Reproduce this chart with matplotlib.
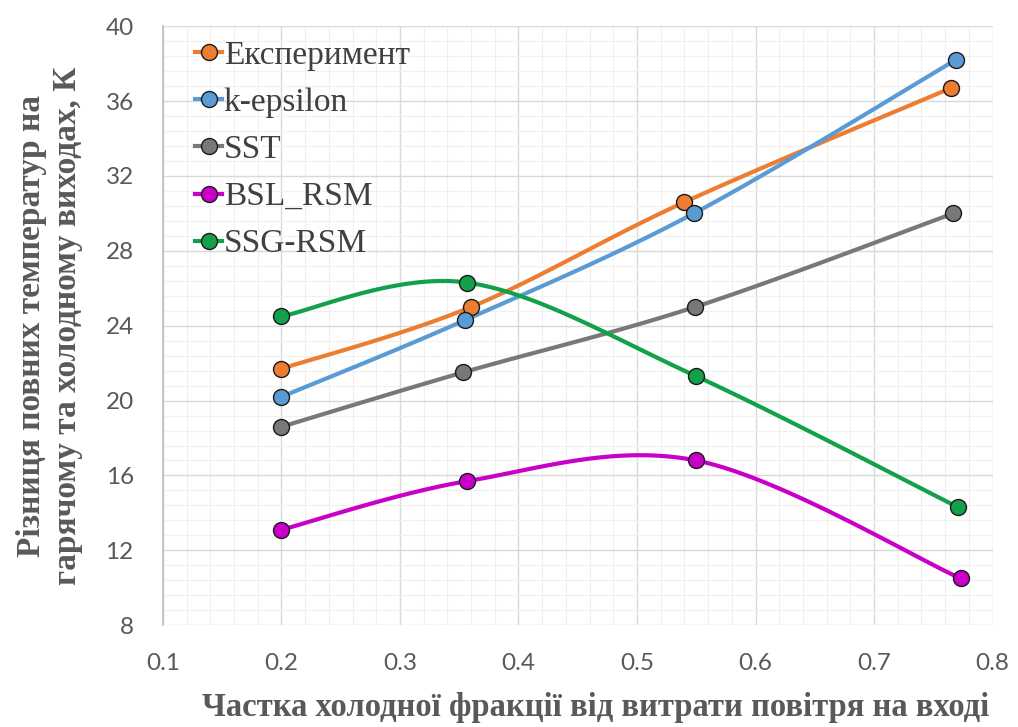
import numpy as np
import matplotlib
matplotlib.use("Agg")
import matplotlib.pyplot as plt
from matplotlib.ticker import MultipleLocator

# Measured data: cold-fraction ratio vs. total temperature difference, K
series_names = ["Експеримент", "k-epsilon", "SST", "BSL_RSM", "SSG-RSM"]
series_colors = ["#ED7D31", "#5B9BD5", "#787878", "#C800C8", "#13A04B"]

x_exp = [0.20, 0.360, 0.540, 0.765]
y_exp = [21.7, 25.0, 30.6, 36.7]

x_keps = [0.20, 0.355, 0.548, 0.769]
y_keps = [20.2, 24.3, 30.0, 38.2]

x_sst = [0.20, 0.353, 0.549, 0.767]
y_sst = [18.6, 21.5, 25.0, 30.0]

x_bsl = [0.20, 0.357, 0.550, 0.773]
y_bsl = [13.1, 15.7, 16.8, 10.5]

x_ssg = [0.20, 0.357, 0.550, 0.771]
y_ssg = [24.5, 26.3, 21.3, 14.3]

xs = [x_exp, x_keps, x_sst, x_bsl, x_ssg]
ys = [y_exp, y_keps, y_sst, y_bsl, y_ssg]

x_ticks = [0.1, 0.2, 0.3, 0.4, 0.5, 0.6, 0.7, 0.8]
y_ticks = [8, 12, 16, 20, 24, 28, 32, 36, 40]

x_label = "Частка холодної фракції від витрати повітря на вході"
y_label = "Різниця повних температур на\nгарячому та холодному виходах, К"


def smooth_curve(ax, x, y, n=40):
    """Spreadsheet-style smoothed line (Catmull-Rom Bezier) built in display space."""
    pts = ax.transData.transform(np.column_stack([x, y]))
    ext = np.vstack([pts[0], pts, pts[-1]])
    out = []
    t = np.linspace(0, 1, n)[:, None]
    for i in range(len(pts) - 1):
        p0, p1, p2, p3 = ext[i], ext[i + 1], ext[i + 2], ext[i + 3]
        c1 = p1 + (p2 - p0) / 6.0
        c2 = p2 - (p3 - p1) / 6.0
        seg = ((1 - t) ** 3) * p1 + 3 * ((1 - t) ** 2) * t * c1 + 3 * (1 - t) * t ** 2 * c2 + t ** 3 * p2
        out.append(seg if i == 0 else seg[1:])
    out = np.vstack(out)
    data = ax.transData.inverted().transform(out)
    return data[:, 0], data[:, 1]


fig = plt.figure(figsize=(10.18, 7.27), dpi=100)
ax = fig.add_axes([0.160, 0.140, 0.815, 0.824])
ax.set_xlim(0.1, 0.8)
ax.set_ylim(8, 40)

ax.xaxis.set_major_locator(MultipleLocator(0.1))
ax.xaxis.set_minor_locator(MultipleLocator(0.02))
ax.yaxis.set_major_locator(MultipleLocator(4))
ax.yaxis.set_minor_locator(MultipleLocator(0.8))
ax.grid(which="major", color="#D9D9D9", linewidth=1.0)
ax.grid(which="minor", color="#F0F0F0", linewidth=0.8)
ax.set_axisbelow(True)

for side in ["top", "right", "bottom"]:
    ax.spines[side].set_visible(False)
ax.spines["left"].set_color("#BFBFBF")
ax.spines["left"].set_linewidth(1.2)

ax.set_xticks(x_ticks)
ax.set_xticklabels([f"{v:g}" for v in x_ticks])
ax.set_yticks(y_ticks)
ax.set_yticklabels([str(v) for v in y_ticks])
ax.tick_params(which="both", length=0)
ax.tick_params(axis="x", pad=20)
ax.tick_params(axis="y", pad=21)
for lab in ax.get_xticklabels() + ax.get_yticklabels():
    lab.set_fontfamily("Lato")
    lab.set_fontsize(17.5)
    lab.set_color("#595959")

fig.canvas.draw()
handles = []
for name, color, x, y in zip(series_names, series_colors, xs, ys):
    sx, sy = smooth_curve(ax, x, y)
    ax.plot(sx, sy, color=color, linewidth=3.0, solid_capstyle="round", zorder=3)
    ax.plot(x, y, linestyle="none", marker="o", markersize=11.5,
            markerfacecolor=color, markeredgecolor="#1a1a1a", markeredgewidth=1.0, zorder=4)
    h, = ax.plot([], [], color=color, linewidth=3.0, marker="o", markersize=11.5,
                 markerfacecolor=color, markeredgecolor="#1a1a1a", markeredgewidth=1.0)
    handles.append(h)

leg = ax.legend(handles, series_names, loc="upper left", bbox_to_anchor=(0.015, 1.010),
                frameon=False, handlelength=0.8, handletextpad=0.05, labelspacing=0.5,
                borderaxespad=0.2, prop={"family": "Liberation Serif", "size": 24})
for txt in leg.get_texts():
    txt.set_color("#404040")

ax.set_xlabel(x_label, fontfamily="Liberation Serif", fontweight="bold", fontsize=23.5,
              color="#595959")
ax.xaxis.set_label_coords(0.522, -0.111)
ax.set_ylabel(y_label, fontfamily="Liberation Serif", fontweight="bold", fontsize=24,
              color="#595959", labelpad=16, linespacing=1.2)

fig.savefig("out.png", dpi=100)
